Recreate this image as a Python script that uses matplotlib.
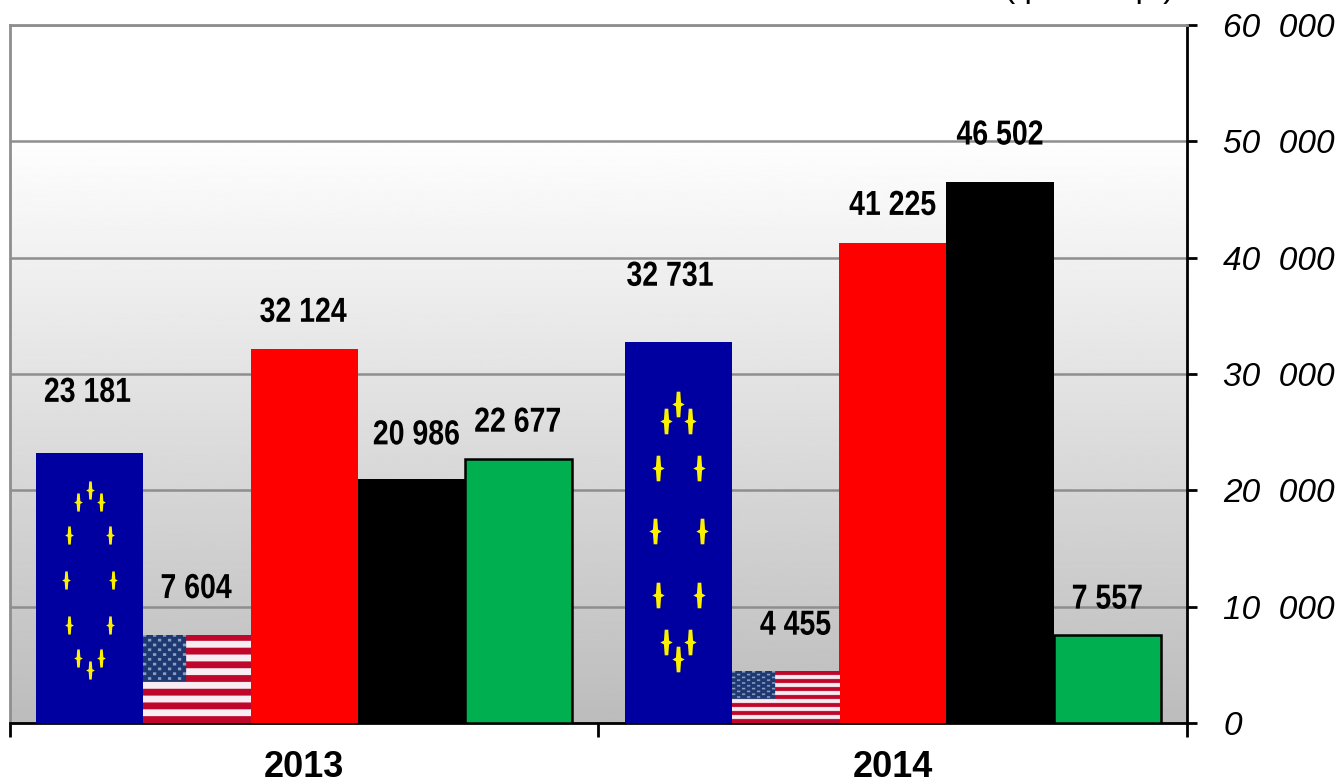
import numpy as np
import matplotlib
matplotlib.use('Agg')
import matplotlib.pyplot as plt
from matplotlib.path import Path
from matplotlib.patheffects import AbstractPathEffect
from matplotlib.transforms import Affine2D

years = ['2013', '2014']
y_ticks = [0, 10000, 20000, 30000, 40000, 50000, 60000]
y_tick_labels = ['0', '10  000', '20  000', '30  000', '40  000', '50  000', '60  000']

# Values per group: EU, USA, red, black, green
vals_2013 = [23181, 7604, 32124, 20986, 22677]
vals_2014 = [32731, 4455, 41225, 46502, 7557]
labels_2013 = ['23 181', '7 604', '32 124', '20 986', '22 677']
labels_2014 = ['32 731', '4 455', '41 225', '46 502', '7 557']

# Shift of each value label from the top of its bar, in pixels
label_dy_2013 = [61, 46, 37, 44, 37]
label_dy_2014 = [66, 46, 38, 47, 36]
label_dx_2013 = [-2, -1, -1, 5, -1]
label_dx_2014 = [-8, 10, 0, 0, 0]

W, H = 1339, 784
BAR_W = 0.1823

SANS = ['Liberation Sans', 'DejaVu Sans']

fig = plt.figure(figsize=(W / 100, H / 100), dpi=100)
ax = fig.add_axes([10 / W, 1 - 723 / H, 1177 / W, 698 / H])


# The value labels in the original are narrower than Liberation Sans Bold
class Squeeze(AbstractPathEffect):
    def __init__(self, sx):
        super().__init__()
        self.sx = sx

    def draw_path(self, renderer, gc, tpath, affine, rgbFace=None):
        xs = affine.transform(tpath.vertices)[:, 0]
        cx = (xs.min() + xs.max()) / 2
        squeezed = affine + Affine2D().translate(-cx, 0).scale(self.sx, 1).translate(cx, 0)
        renderer.draw_path(gc, tpath, squeezed, rgbFace)


# White on top, gray at the bottom
def draw_background():
    t = np.linspace(0, 1, 256)
    k = 0.15
    g = np.where(t < k, 1.0, 1.0 - (t - k) / (1 - k) * (1 - 0xBC / 255))
    ax.imshow(g[:, None], cmap='gray', vmin=0, vmax=1, aspect='auto',
              extent=(0, 1, 0, 1), transform=ax.transAxes, zorder=0)


def us_flag():
    rows, cols = 130, 130
    img = np.zeros((rows, cols, 3))
    for r in range(rows):
        img[r, :] = (0.75, 0.03, 0.17) if (r // 10) % 2 == 0 else (0.97, 0.93, 0.95)
    can_r, can_c = 70, 52
    img[:can_r, :can_c] = (0.12, 0.22, 0.45)
    for r in range(can_r):
        for c in range(can_c):
            if (r // 7 + c // 6) % 2 == 0 and r % 7 < 4 and c % 6 < 4:
                img[r, c] = (0.55, 0.62, 0.75)
    return img


# Blurry thin star like on the stretched flag picture
star = Path([(-0.14, 1), (0.14, 1), (0.2, 0.15), (0.48, 0), (0.2, -0.15), (0.14, -1),
             (-0.14, -1), (-0.2, -0.15), (-0.48, 0), (-0.2, 0.15), (-0.14, 1)],
            closed=True)


def eu_stars(bar, cy_frac, ry_frac):
    x0 = bar.get_x() + bar.get_width() / 2
    h = bar.get_height()
    ang = np.arange(12) * np.pi / 6
    xs = x0 + 0.040 * np.sin(ang)
    ys = h * cy_frac + h * ry_frac * np.cos(ang)
    ax.scatter(xs, ys, marker=star, s=170 if h < 25000 else 340,
               color='#FAF000', linewidths=0, zorder=4)


draw_background()

ax.set_xlim(-0.5, 1.5)
ax.set_ylim(0, 60000)

ax.yaxis.tick_right()
ax.set_yticks(y_ticks)
ax.set_yticklabels(y_tick_labels, fontstyle='italic', fontsize=24, family=SANS, color='black')
ax.tick_params(axis='y', length=7, width=2, color='black', pad=19, direction='out')
ax.set_xticks([-0.5, 0.5, 1.5])
ax.set_xticklabels([])
ax.tick_params(axis='x', length=10, width=2, color='black')
ax.grid(axis='y', color='#8E8E8E', linewidth=1.8, zorder=1)
ax.set_axisbelow(True)

ax.spines['left'].set_color('#8E8E8E')
ax.spines['top'].set_color('#8E8E8E')
ax.spines['right'].set_color('black')
ax.spines['bottom'].set_color('black')
for s in ax.spines.values():
    s.set_linewidth(2)

colors = ['#0000A0', '#FFFFFF', '#FF0000', '#000000', '#00B050']
groups = [(vals_2013, labels_2013, label_dx_2013, label_dy_2013),
          (vals_2014, labels_2014, label_dx_2014, label_dy_2014)]

for g, (vals, labs, dxs, dys) in enumerate(groups):
    xs = g + (np.arange(5) - 2) * BAR_W
    bars = ax.bar(xs, vals, width=BAR_W, color=colors, zorder=3)
    bars[4].set_edgecolor('black')
    bars[4].set_linewidth(1.8)
    # Flags
    b = bars[1]
    im = ax.imshow(us_flag(), aspect='auto', zorder=3.5, interpolation='antialiased',
                   extent=(b.get_x(), b.get_x() + b.get_width(), 0, b.get_height()))
    im.set_clip_path(b)
    for x, v, lab, dx, dy in zip(xs, vals, labs, dxs, dys):
        ax.annotate(lab, (x, v), xytext=(dx * 0.72, dy * 0.72), textcoords='offset points',
                    ha='center', va='center', fontsize=25, fontweight='bold',
                    family=SANS, color='black', zorder=5, path_effects=[Squeeze(0.82)])
    ax.text(g, -0.064, years[g], transform=ax.get_xaxis_transform(), ha='center', va='center',
            fontsize=26, fontweight='bold', family=SANS)
    eu_stars(bars[0], 0.53 if g == 0 else 0.503, 0.335)

ax.set_xlim(-0.5, 1.5)
ax.set_ylim(0, 60000)

# Unit note, cut by the top edge in the original: only its lowest part shows
fig.text(1004 / W, 1 + 3 / H, '( р          р.)', fontsize=24, family=SANS,
         ha='left', va='baseline', color='black')

fig.savefig('out.png', dpi=100)
